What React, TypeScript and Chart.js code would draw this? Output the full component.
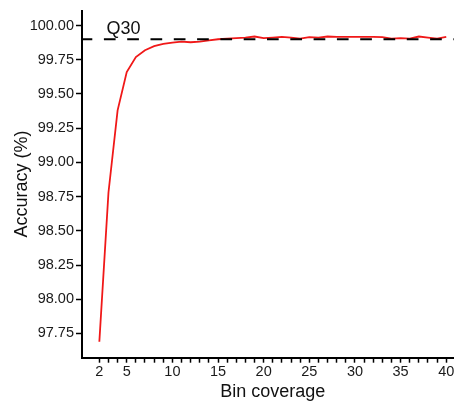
import React, { useEffect, useRef } from 'react';
import { Chart, registerables } from 'chart.js';

Chart.register(...registerables);

const coverage = [2, 3, 4, 5, 6, 7, 8, 9, 10, 11, 12, 13, 14, 15, 16, 17, 18, 19, 20, 21, 22, 23, 24, 25, 26, 27, 28, 29, 30, 31, 32, 33, 34, 35, 36, 37, 38, 39, 40];
const accuracy = [97.69, 98.78, 99.38, 99.66, 99.77, 99.82, 99.85, 99.866, 99.876, 99.883, 99.878, 99.882, 99.892, 99.9, 99.905, 99.908, 99.912, 99.92, 99.908, 99.912, 99.917, 99.912, 99.905, 99.915, 99.912, 99.92, 99.917, 99.917, 99.917, 99.917, 99.917, 99.915, 99.905, 99.908, 99.905, 99.92, 99.912, 99.905, 99.917];
const xTickLabels = [2, 5, 10, 15, 20, 25, 30, 35, 40];
const yTickValues = [97.75, 98.0, 98.25, 98.5, 98.75, 99.0, 99.25, 99.5, 99.75, 100.0];
const q30Value = 99.9;
const q30Label = 'Q30';
const q30LabelX = 4.65;
const q30LabelY = 99.937;
const xTitle = 'Bin coverage';
const yTitle = 'Accuracy (%)';

const FONT = "'Liberation Sans', Arial, sans-serif";

export default function App() {
  const ref = useRef<HTMLCanvasElement | null>(null);

  useEffect(() => {
    const canvas = ref.current;
    if (!canvas) return;

    const q30Plugin = {
      id: 'q30',
      afterDatasetsDraw(chart: any) {
        const { ctx, chartArea, scales } = chart;
        const y = scales.y.getPixelForValue(q30Value);
        ctx.save();
        ctx.beginPath();
        ctx.setLineDash([11.7, 11.6]);
        ctx.lineDashOffset = 1.4;
        ctx.strokeStyle = '#000';
        ctx.lineWidth = 1.8;
        ctx.moveTo(chartArea.left, y);
        ctx.lineTo(chartArea.right, y);
        ctx.stroke();
        ctx.setLineDash([]);
        ctx.font = `18px ${FONT}`;
        ctx.fillStyle = '#111';
        ctx.textAlign = 'center';
        ctx.textBaseline = 'alphabetic';
        ctx.fillText(q30Label, scales.x.getPixelForValue(q30LabelX), scales.y.getPixelForValue(q30LabelY));
        ctx.restore();
      },
    };

    const chart = new Chart(canvas, {
      type: 'line',
      data: {
        datasets: [
          {
            data: coverage.map((c, i) => ({ x: c, y: accuracy[i] })),
            borderColor: '#f01818',
            borderWidth: 1.8,
            pointRadius: 0,
            tension: 0,
            fill: false,
          },
        ],
      },
      options: {
        responsive: false,
        animation: false,
        devicePixelRatio: 1,
        layout: { padding: { top: 2.5, right: 14.4, left: 0, bottom: 0 } },
        plugins: { legend: { display: false }, tooltip: { enabled: false } },
        scales: {
          x: {
            type: 'linear',
            min: 0.1,
            max: 41.9,
            afterBuildTicks: (scale: any) => {
              scale.ticks = coverage.map((v) => ({ value: v }));
            },
            afterFit: (scale: any) => {
              scale.height = 47.3;
              scale.paddingLeft = 0;
              scale.paddingRight = 0;
            },
            ticks: {
              autoSkip: false,
              maxRotation: 0,
              padding: 1,
              color: '#1a1a1a',
              font: { family: FONT, size: 14.5 },
              callback: (v: any) => (xTickLabels.includes(Number(v)) ? String(v) : ''),
            },
            grid: {
              drawOnChartArea: false,
              drawTicks: true,
              tickLength: 5,
              tickWidth: 1.5,
              tickColor: '#000',
            },
            border: { display: true, color: '#000', width: 2 },
            title: {
              display: true,
              text: xTitle,
              color: '#111',
              font: { family: FONT, size: 18 },
              padding: { top: 0, bottom: 2 },
            },
          },
          y: {
            type: 'linear',
            min: 97.573,
            max: 100.11,
            afterBuildTicks: (scale: any) => {
              scale.ticks = yTickValues.map((v) => ({ value: v }));
            },
            afterFit: (scale: any) => {
              scale.width = 74;
              scale.paddingTop = 0;
              scale.paddingBottom = 0;
            },
            ticks: {
              padding: 2,
              color: '#1a1a1a',
              font: { family: FONT, size: 14.5 },
              callback: (v: any) => Number(v).toFixed(2),
            },
            grid: {
              drawOnChartArea: false,
              drawTicks: true,
              tickLength: 6,
              tickWidth: 1.5,
              tickColor: '#000',
            },
            border: { display: true, color: '#000', width: 2 },
            title: {
              display: true,
              text: yTitle,
              color: '#111',
              font: { family: FONT, size: 18 },
              padding: { top: 3, bottom: 0 },
            },
          },
        },
      },
      plugins: [q30Plugin],
    });

    return () => chart.destroy();
  }, []);

  return (
    <div style={{ position: 'fixed', left: 8, top: 8, width: 446, height: 397, overflow: 'hidden' }}>
      <canvas ref={ref} width={470} height={397} style={{ display: 'block' }} />
    </div>
  );
}
